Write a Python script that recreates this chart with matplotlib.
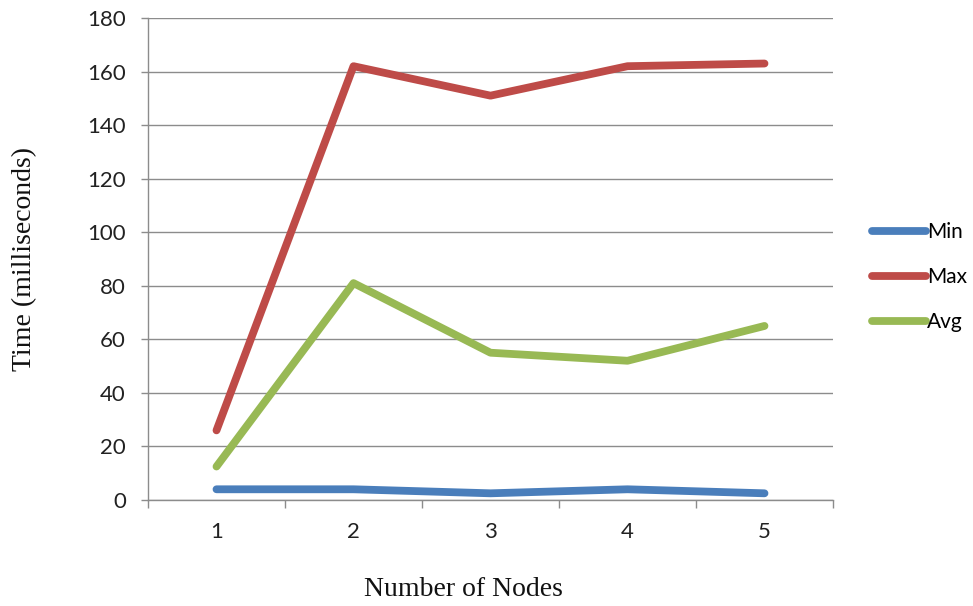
import numpy as np
import matplotlib.pyplot as plt
from matplotlib.ticker import FixedLocator, NullFormatter, FixedFormatter

nodes = [1, 2, 3, 4, 5]
t_min = [4, 4, 2.5, 4, 2.5]
t_max = [26, 162, 151, 162, 163]
t_avg = [12.5, 81, 55, 52, 65]

fig = plt.figure(figsize=(9.73, 6.06), dpi=100)
ax = fig.add_axes([148/973, 106/606, 685/973, 482/606])

lw = 5.6
ax.plot(nodes, t_min, color='#4A7EBB', lw=lw, solid_capstyle='round', label='Min', zorder=3)
ax.plot(nodes, t_max, color='#BE4B48', lw=lw, solid_capstyle='round', label='Max', zorder=3)
ax.plot(nodes, t_avg, color='#98B954', lw=lw, solid_capstyle='round', label='Avg', zorder=3)

ax.set_xlim(0.5, 5.5)
ax.set_ylim(0, 180)

grid_c = '#8C8C8C'
ax.set_yticks(np.arange(0, 181, 20))
ax.yaxis.grid(True, color=grid_c, lw=1)
ax.set_axisbelow(True)

# category boundaries get the tick marks, labels sit in between
ax.xaxis.set_major_locator(FixedLocator([0.5, 1.5, 2.5, 3.5, 4.5, 5.5]))
ax.xaxis.set_major_formatter(NullFormatter())
ax.xaxis.set_minor_locator(FixedLocator(nodes))
ax.xaxis.set_minor_formatter(FixedFormatter([str(n) for n in nodes]))
ax.tick_params(axis='x', which='major', length=6, width=1, color=grid_c, direction='out')
ax.tick_params(axis='x', which='minor', length=0, pad=16)
ax.tick_params(axis='y', length=5, width=1, color=grid_c, pad=11)

for lab in ax.get_yticklabels() + ax.get_xticklabels(minor=True):
    lab.set_fontfamily('Lato')
    lab.set_fontsize(16)
    lab.set_color('#222222')

for s in ['top', 'right']:
    ax.spines[s].set_visible(False)
for s in ['left', 'bottom']:
    ax.spines[s].set_color(grid_c)
    ax.spines[s].set_linewidth(1)

fig.text(463/973, 1 - 590/606, 'Number of Nodes', family='Liberation Serif', fontsize=20,
         ha='center', va='center', color='#111111')
fig.text(25/973, 1 - 259/606, 'Time (milliseconds)', family='Liberation Serif', fontsize=20,
         ha='center', va='center', rotation=90, color='#111111')

leg = fig.legend(loc='center left', bbox_to_anchor=(853/973, 1 - 277/606), frameon=False,
                 handlelength=2.6, handletextpad=0.05, labelspacing=1.2,
                 prop={'family': 'Lato', 'size': 15})

fig.savefig('out.png', dpi=100)
